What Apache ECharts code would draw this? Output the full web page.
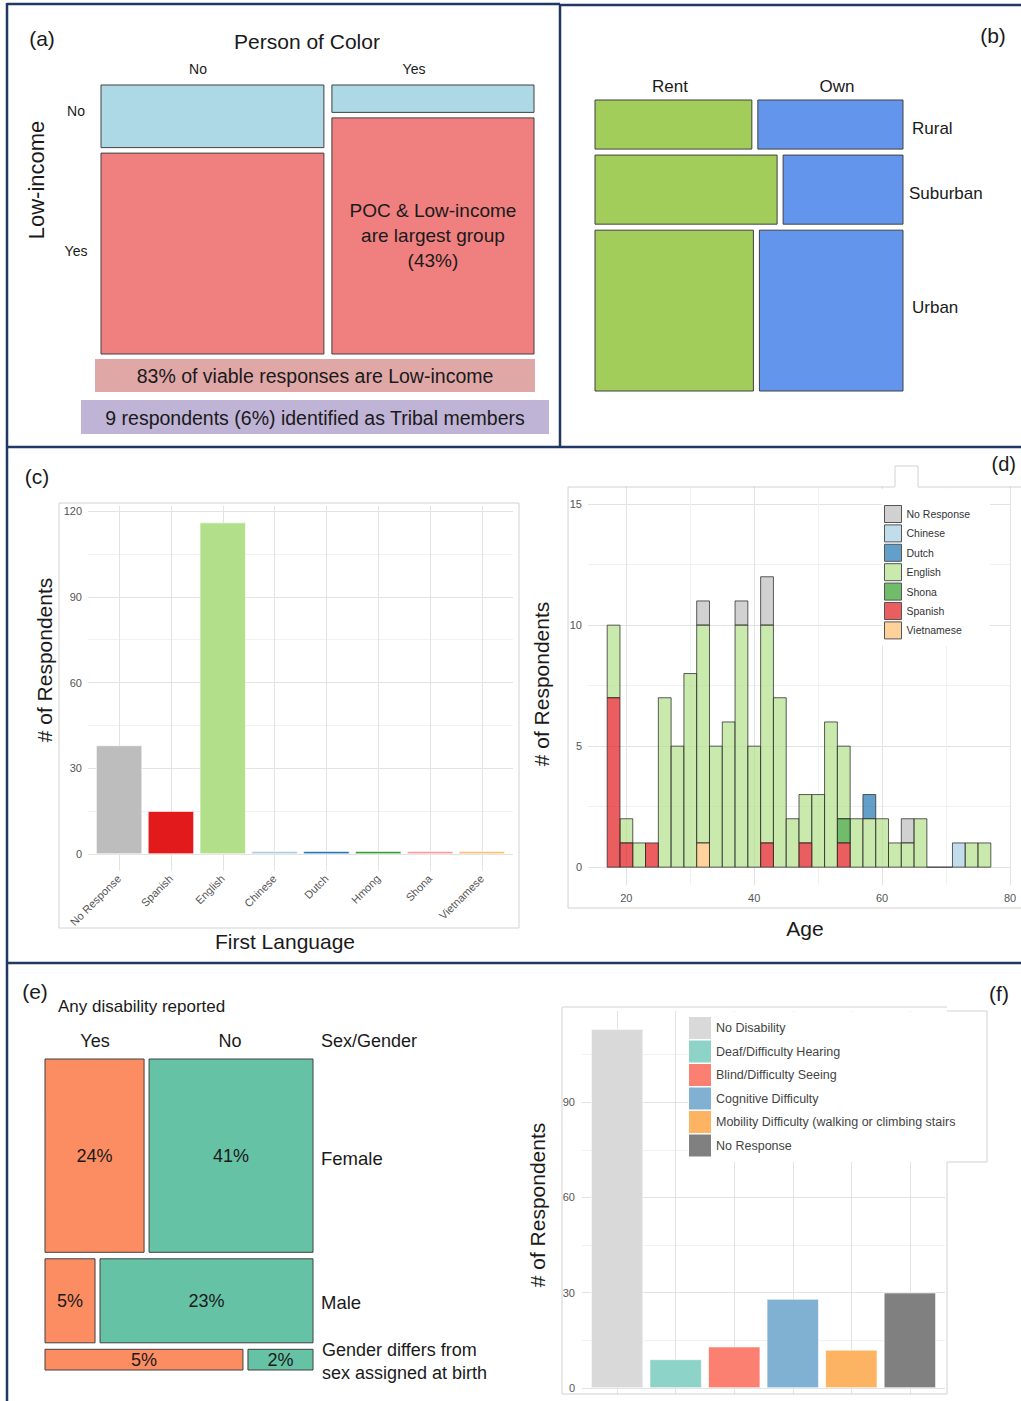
<!DOCTYPE html>
<html><head><meta charset="utf-8">
<script src="https://cdn.jsdelivr.net/npm/echarts@6/dist/echarts.min.js"></script>
<style>html,body{margin:0;padding:0;background:#fff}#chart{width:1021px;height:1401px}</style>
</head><body><div id="chart"></div>
<script>
// ---------- (a) Person of Color x Low-income mosaic ----------
const pocCategories = ['No', 'Yes'];
const pocShare = [0.524, 0.476];
const lowIncomeCategories = ['No', 'Yes'];
const lowIncomeShareWhenPocNo = [0.243, 0.757];
const lowIncomeShareWhenPocYes = [0.112, 0.888];
const pocHighlightLabel = 'POC & Low-income\nare largest group\n(43%)';
// ---------- (b) Tenure x Area mosaic ----------
const tenureCategories = ['Rent', 'Own'];
const areaCategories = ['Rural', 'Suburban', 'Urban'];
const areaShare = [0.179, 0.258, 0.563];
const rentShareByArea = [0.519, 0.601, 0.524];
// ---------- (c) First language ----------
const languageCategories = ['No Response', 'Spanish', 'English', 'Chinese', 'Dutch', 'Hmong', 'Shona', 'Vietnamese'];
const languageCounts = [38, 15, 116, 1, 1, 1, 1, 1];
// ---------- (d) Age histogram (2-year bins) ----------
const ageBinStarts = [17,19,21,23,25,27,29,31,33,35,37,39,41,43,45,47,49,51,53,55,57,59,61,63,65,67,69,71,73,75];
const ageBinWidth = 2;
const ageNoResponse = [0,0,0,0,0,0,0,1,0,0,1,0,2,0,0,0,0,0,0,0,0,0,0,1,0,0,0,0,0,0];
const ageChinese    = [0,0,0,0,0,0,0,0,0,0,0,0,0,0,0,0,0,0,0,0,0,0,0,0,0,0,0,1,0,0];
const ageDutch      = [0,0,0,0,0,0,0,0,0,0,0,0,0,0,0,0,0,0,0,0,1,0,0,0,0,0,0,0,0,0];
const ageEnglish    = [3,1,1,0,7,5,8,9,5,6,10,5,9,7,2,2,3,6,3,2,2,2,1,1,2,0,0,0,1,1];
const ageShona      = [0,0,0,0,0,0,0,0,0,0,0,0,0,0,0,0,0,0,1,0,0,0,0,0,0,0,0,0,0,0];
const ageSpanish    = [7,1,0,1,0,0,0,0,0,0,0,0,1,0,0,1,0,0,1,0,0,0,0,0,0,0,0,0,0,0];
const ageVietnamese = [0,0,0,0,0,0,0,1,0,0,0,0,0,0,0,0,0,0,0,0,0,0,0,0,0,0,0,0,0,0];
const ageLegendOrder = ['No Response', 'Chinese', 'Dutch', 'English', 'Shona', 'Spanish', 'Vietnamese'];
const ageStackOrder = ['Vietnamese', 'Spanish', 'Shona', 'English', 'Dutch', 'Chinese', 'No Response'];
// ---------- (e) Disability x Sex/Gender mosaic ----------
const disabilityReported = ['Yes', 'No'];
const sexGenderCategories = ['Female', 'Male', 'Gender differs from\nsex assigned at birth'];
const sexGenderShare = [0.632, 0.291, 0.077];
const disabilityYesShare = [0.379, 0.196, 0.748];
const disabilityPctLabels = [['24%', '41%'], ['5%', '23%'], ['5%', '2%']];
// ---------- (f) Disability type ----------
const disabilityCategories = ['No Disability', 'Deaf/Difficulty Hearing', 'Blind/Difficulty Seeing', 'Cognitive Difficulty', 'Mobility Difficulty (walking or climbing stairs', 'No Response'];
const disabilityCounts = [113, 9, 13, 28, 12, 30];

// ---------- styling ----------
const FONT = '"Liberation Sans", Arial, sans-serif';
const langColors = {'No Response':'#bdbdbd','Spanish':'#e31a1c','English':'#b2df8a','Chinese':'#a6cee3','Dutch':'#1f78b4','Hmong':'#33a02c','Shona':'#fb9a99','Vietnamese':'#fdbf6f'};
const ageColors = {'No Response':'#bdbdbd','Chinese':'#a6cee3','Dutch':'#1f78b4','English':'#b2df8a','Shona':'#33a02c','Spanish':'#e31a1c','Vietnamese':'#fdbf6f'};
function alpha(hex, a){const n=parseInt(hex.slice(1),16);return 'rgba('+((n>>16)&255)+','+((n>>8)&255)+','+(n&255)+','+a+')';}
const disColors = ['#d9d9d9','#8dd3c7','#fb8072','#80b1d3','#fdb462','#808080'];
const MAJ = '#e3e3e3', MIN = '#f1f1f1';

// ---------- mosaic cells ----------
const cellsA = [];
(function(){let x=0;for(let c=0;c<pocCategories.length;c++){const rows=c===0?lowIncomeShareWhenPocNo:lowIncomeShareWhenPocYes;let y=0;
  for(let r=0;r<lowIncomeCategories.length;r++){cellsA.push({x0:x,x1:x+pocShare[c],y0:y,y1:y+rows[r],fill:r===0?'#add8e6':'#f08080',label:(c===1&&r===1)?pocHighlightLabel:''});y+=rows[r];}
  x+=pocShare[c];}})();
const cellsB = [];
(function(){let y=0;for(let r=0;r<areaCategories.length;r++){const shares=[rentShareByArea[r],1-rentShareByArea[r]];let x=0;
  for(let c=0;c<tenureCategories.length;c++){cellsB.push({x0:x,x1:x+shares[c],y0:y,y1:y+areaShare[r],fill:c===0?'#a2cd5a':'#6495ed',label:''});x+=shares[c];}
  y+=areaShare[r];}})();
const cellsE = [];
(function(){let y=0;for(let r=0;r<sexGenderCategories.length;r++){const shares=[disabilityYesShare[r],1-disabilityYesShare[r]];let x=0;
  for(let c=0;c<disabilityReported.length;c++){cellsE.push({x0:x,x1:x+shares[c],y0:y,y1:y+sexGenderShare[r],fill:c===0?'#fc8d62':'#66c2a5',label:disabilityPctLabels[r][c]});x+=shares[c];}
  y+=sexGenderShare[r];}})();

function mosaicSeries(idx, cells, gx, gy, fontSize, lineHeight){
  return {type:'custom', xAxisIndex:idx, yAxisIndex:idx, silent:true, clip:false,
    data: cells.map(c=>[c.x0,c.x1,c.y0,c.y1]), encode:{x:[0,1], y:[2,3]},
    renderItem: function(params, api){
      const c = cells[params.dataIndex];
      const x0=api.value(0), x1=api.value(1), y0=api.value(2), y1=api.value(3);
      const p0 = api.coord([x0,y0]), p1 = api.coord([x1,y1]);
      const l = p0[0] + (x0>1e-6?gx/2:0), r = p1[0] - (x1<1-1e-6?gx/2:0);
      const t = p0[1] + (y0>1e-6?gy/2:0), b = p1[1] - (y1<1-1e-6?gy/2:0);
      const ch = [{type:'rect', shape:{x:l,y:t,width:r-l,height:b-t}, style:{fill:c.fill, stroke:'#404040', lineWidth:1}}];
      if (c.label) ch.push({type:'text', x:(l+r)/2, y:(t+b)/2, style:{text:c.label, fill:'#1a1a1a', font:fontSize+'px '+FONT, align:'center', verticalAlign:'middle', lineHeight:lineHeight}});
      return {type:'group', children:ch};
    }};
}

// ---------- histogram segments ----------
const ageCountsByLang = {'No Response':ageNoResponse,'Chinese':ageChinese,'Dutch':ageDutch,'English':ageEnglish,'Shona':ageShona,'Spanish':ageSpanish,'Vietnamese':ageVietnamese};
const histSegments = {};
const histTotals = ageBinStarts.map(()=>0);
ageStackOrder.forEach(function(lang){
  histSegments[lang] = [];
  ageCountsByLang[lang].forEach(function(v,i){
    if (v>0) histSegments[lang].push([ageBinStarts[i], ageBinStarts[i]+ageBinWidth, histTotals[i], histTotals[i]+v]);
    histTotals[i] += v;
  });
});
const emptyBins = [];
histTotals.forEach(function(t,i){ if(t===0) emptyBins.push([ageBinStarts[i], ageBinStarts[i]+ageBinWidth, 0, 0]); });
function histRender(params, api){
  const p0 = api.coord([api.value(0), api.value(2)]), p1 = api.coord([api.value(1), api.value(3)]);
  return {type:'rect', shape:{x:p0[0], y:p1[1], width:p1[0]-p0[0], height:p0[1]-p1[1]}, style:{fill:api.visual('color'), stroke:'rgba(40,40,40,0.75)', lineWidth:1}};
}

// ---------- axes helpers ----------
function hiddenAxes(i){
  return {x:{type:'value', gridIndex:i, min:0, max:1, show:false}, y:{type:'value', gridIndex:i, min:0, max:1, inverse:true, show:false}};
}
const lab = {color:'#555', fontSize:11, fontFamily:FONT};

const grids = [
  {left:101, top:85, width:433, height:269},
  {left:595, top:100, width:308, height:291},
  {left:88, top:506, width:425, height:364.6},
  {left:588, top:486, width:422, height:399.3},
  {left:45, top:1059, width:268, height:311},
  {left:582, top:1011, width:363, height:383}
].map(g=>Object.assign({containLabel:false, outerBoundsMode:'none', show:false}, g));

const hA = hiddenAxes(0), hB = hiddenAxes(1), hE = hiddenAxes(4);
const xAxes = [hA.x, hB.x,
  {type:'value', gridIndex:2, min:0.4, max:8.6, axisLine:{show:false},
    axisTick:{show:false, customValues:[1,2,3,4,5,6,7,8]},
    axisLabel:Object.assign({}, lab, {customValues:[1,2,3,4,5,6,7,8], rotate:45, margin:6, formatter:v=>languageCategories[Math.round(v)-1]}),
    splitLine:{show:true, lineStyle:{color:MAJ, width:1}}},
  {type:'value', gridIndex:3, min:14, max:80, axisLine:{show:false},
    axisTick:{show:false, customValues:[20,30,40,50,60,70,80]},
    axisLabel:Object.assign({}, lab, {customValues:[20,40,60,80], margin:7}),
    splitLine:{show:true, lineStyle:{color:[MAJ,MIN], width:1}}},
  hE.x,
  {type:'value', gridIndex:5, min:0.4, max:6.6, axisLine:{show:false},
    axisTick:{show:false, customValues:[1,2,3,4,5,6]}, axisLabel:{show:false},
    splitLine:{show:true, lineStyle:{color:MAJ, width:1}}}
];
const yAxes = [hA.y, hB.y,
  {type:'value', gridIndex:2, min:-5.8, max:121.8, axisLine:{show:false},
    axisTick:{show:false, customValues:[0,15,30,45,60,75,90,105,120]},
    axisLabel:Object.assign({}, lab, {customValues:[0,30,60,90,120], margin:6}),
    splitLine:{show:true, lineStyle:{color:[MAJ,MIN], width:1}}},
  {type:'value', gridIndex:3, min:-0.75, max:15.75, axisLine:{show:false},
    axisTick:{show:false, customValues:[0,2.5,5,7.5,10,12.5,15]},
    axisLabel:Object.assign({}, lab, {customValues:[0,5,10,15], margin:6}),
    splitLine:{show:true, lineStyle:{color:[MAJ,MIN], width:1}}},
  hE.y,
  {type:'value', gridIndex:5, min:-1.9, max:118.7, axisLine:{show:false},
    axisTick:{show:false, customValues:[0,15,30,45,60,75,90,105]},
    axisLabel:Object.assign({}, lab, {customValues:[0,30,60,90], margin:7}),
    splitLine:{show:true, lineStyle:{color:[MAJ,MIN], width:1}}}
];

// ---------- series ----------
const series = [
  mosaicSeries(0, cellsA, 8, 5.5, 19, 25),
  mosaicSeries(1, cellsB, 6, 6, 17, 20),
  mosaicSeries(4, cellsE, 5, 6.5, 18, 20),
  {type:'bar', name:'First Language', xAxisIndex:2, yAxisIndex:2, barWidth:46, silent:true,
    data: languageCategories.map((c,i)=>({value:[i+1, languageCounts[i]], itemStyle:{color:langColors[c], borderColor:'#fff', borderWidth:0.6}}))}
];
ageLegendOrder.forEach(function(lang){
  series.push({type:'custom', name:lang, xAxisIndex:3, yAxisIndex:3, silent:true, clip:false,
    itemStyle:{color:alpha(ageColors[lang],0.7)}, data:histSegments[lang], encode:{x:[0,1], y:[2,3]}, renderItem:histRender});
});
series.push({type:'custom', name:'empty bins', xAxisIndex:3, yAxisIndex:3, silent:true, itemStyle:{color:'rgba(0,0,0,0)'},
  data:emptyBins, encode:{x:[0,1], y:[2,3]}, renderItem:histRender});
disabilityCategories.forEach(function(cat,i){
  series.push({type:'bar', name:cat, xAxisIndex:5, yAxisIndex:5, stack:'dis', barWidth:52, silent:true,
    itemStyle:{color:disColors[i], borderColor:'#fff', borderWidth:0.6}, data:[[i+1, disabilityCounts[i]]]});
});

// ---------- graphic (frames, titles, annotations) ----------
function txt(x, y, s, size, align, rot, color){
  return {type:'text', x:x, y:y, z:10, silent:true, rotation:rot||0,
    style:{text:s, fill:color||'#1a1a1a', font:size+'px '+FONT, align:align||'center', textAlign:align||'center', verticalAlign:'middle', textVerticalAlign:'middle'}};
}
function ln(x1,y1,x2,y2,color,w){return {type:'line', z:10, silent:true, shape:{x1:x1,y1:y1,x2:x2,y2:y2}, style:{stroke:color, lineWidth:w}};}
function poly(points,color,w){return {type:'polyline', z:10, silent:true, shape:{points:points}, style:{stroke:color, lineWidth:w, fill:null}};}
function box(x,y,w,h,fill,z){return {type:'rect', z:z||1, silent:true, shape:{x:x,y:y,width:w,height:h}, style:{fill:fill, stroke:null}};}
const NAVY = '#203864', PANEL = '#d2d2d2';
const graphic = [
  box(882, 489, 108, 157, '#ffffff', 3),
  box(688, 1012, 299, 150, '#ffffff', 3),
  poly([[59,503],[519,503],[519,928],[59,928],[59,503]], PANEL, 1),
  poly([[1021,487],[918,487],[918,466],[895,466],[895,487],[568,487],[568,908],[1021,908]], PANEL, 1),
  poly([[947,1162],[947,1394],[562,1394],[562,1007],[947,1007]], PANEL, 1),
  poly([[947,1011],[987,1011],[987,1162],[947,1162]], PANEL, 1),
  ln(7,3,7,1401,NAVY,2.5), ln(7,4,560,4,NAVY,2.5), ln(560,5,1021,5,NAVY,2.5),
  ln(560,4,560,447,NAVY,2.5), ln(7,447,1021,447,NAVY,2.5), ln(7,963,1021,963,NAVY,2.5),
  txt(42,38,'(a)',21), txt(307,41,'Person of Color',21),
  txt(198,69,pocCategories[0],14), txt(414,69,pocCategories[1],14),
  txt(76,111,lowIncomeCategories[0],14), txt(76,251,lowIncomeCategories[1],14),
  txt(36,180,'Low-income',22,'center',Math.PI/2),
  box(95,359,440,33,'#e0a7a7',1), txt(315,376,'83% of viable responses are Low-income',19.5),
  box(81,400,468,34,'#bfb3d6',1), txt(315,418,'9 respondents (6%) identified as Tribal members',19.5),
  txt(993,35,'(b)',21),
  txt(670,86,tenureCategories[0],17), txt(837,86,tenureCategories[1],17),
  txt(912,128,areaCategories[0],17,'left'), txt(909,193,areaCategories[1],17,'left'), txt(912,307,areaCategories[2],17,'left'),
  txt(37,476,'(c)',21),
  txt(44,660,'# of Respondents',21,'center',Math.PI/2),
  txt(285,941,'First Language',21),
  txt(1016,464,'(d)',20,'right'),
  txt(541,684,'# of Respondents',21,'center',Math.PI/2),
  txt(805,928,'Age',21),
  txt(35,991,'(e)',21),
  txt(58,1006,'Any disability reported',17,'left'),
  txt(95,1041,disabilityReported[0],18), txt(230,1041,disabilityReported[1],18), txt(321,1041,'Sex/Gender',18,'left'),
  txt(321,1158,sexGenderCategories[0],18.5,'left'), txt(321,1302,sexGenderCategories[1],18.5,'left'),
  txt(322,1350,'Gender differs from',18,'left'), txt(322,1373,'sex assigned at birth',18,'left'),
  txt(999,993,'(f)',21),
  txt(537,1205,'# of Respondents',21,'center',Math.PI/2)
];

const legends = [
  {left:884, top:505, orient:'vertical', padding:0, itemWidth:17, itemHeight:17, itemGap:1.4, icon:'rect', selectedMode:false,
    textStyle:{fontSize:10.5, color:'#333', fontFamily:FONT},
    itemStyle:{borderColor:'#555', borderWidth:1},
    data: ageLegendOrder.map(l=>({name:l, itemStyle:{color:alpha(ageColors[l],0.7), borderColor:'#555', borderWidth:1}}))},
  {left:689, top:1017, orient:'vertical', padding:0, itemWidth:22, itemHeight:22, itemGap:1.5, icon:'rect', selectedMode:false,
    textStyle:{fontSize:12.5, color:'#444', fontFamily:FONT},
    data: disabilityCategories.map((c,i)=>({name:c, itemStyle:{color:disColors[i], borderWidth:0}}))}
];

const chart = echarts.init(document.getElementById('chart'), null, {renderer:'svg', width:1021, height:1401});
chart.setOption({
  backgroundColor:'#ffffff', animation:false,
  textStyle:{fontFamily:FONT},
  grid:grids, xAxis:xAxes, yAxis:yAxes, series:series, legend:legends, graphic:graphic
});
</script></body></html>
